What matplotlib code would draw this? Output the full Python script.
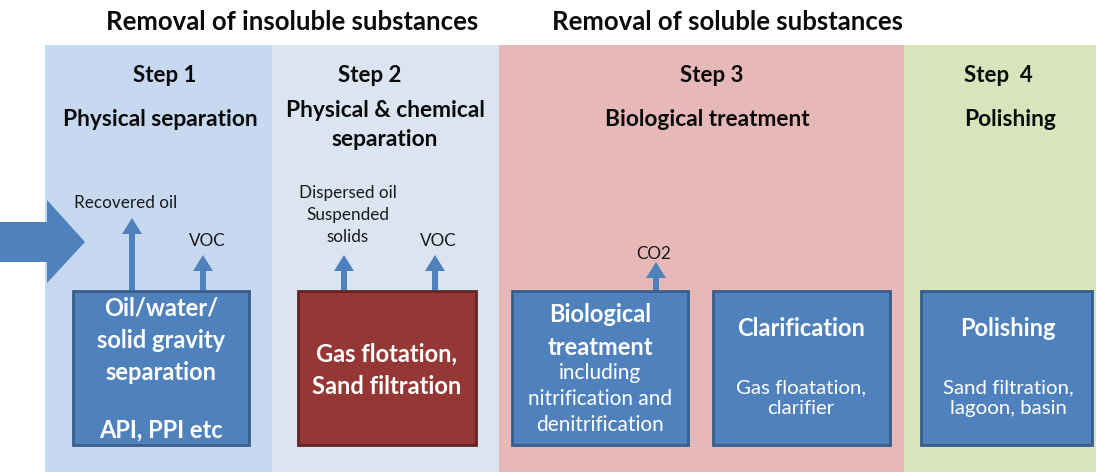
import matplotlib.pyplot as plt
from matplotlib.patches import Rectangle, FancyArrow, Polygon

plt.rcParams['font.family'] = ['Lato', 'DejaVu Sans']

# header groups
group_titles = ['Removal of insoluble substances', 'Removal of soluble substances']
group_x = [292, 728]

# step panels: left, right, colour
panel_left = [45, 272, 499, 904]
panel_right = [272, 499, 904, 1096]
panel_colors = ['#c6d9f0', '#dbe5f1', '#e6b8b7', '#d7e4bc']
step_labels = ['Step 1', 'Step 2', 'Step 3', 'Step  4']
step_x = [165, 370, 712, 998]
step_names = ['Physical separation', 'Physical & chemical\nseparation',
              'Biological treatment', 'Polishing']
step_name_x = [160, 385, 707, 1010]

# process boxes
box_left = [73, 298, 512, 713, 921]
box_right = [249, 476, 688, 890, 1092]
box_colors = ['#4f81bd', '#953735', '#4f81bd', '#4f81bd', '#4f81bd']
box_edges = ['#385d8a', '#632523', '#385d8a', '#385d8a', '#385d8a']
box_top, box_bottom = 291, 445

# outlet arrows
outlet_x = [132, 203, 344, 435, 656]
outlet_tip = [218, 255, 255, 255, 262]
outlet_labels = ['Recovered oil', 'VOC', 'Dispersed oil\nSuspended\nsolids', 'VOC', 'CO2']
outlet_label_x = [126, 207, 348, 438, 654]
outlet_label_y = [203, 241, 215, 241, 254]

fig = plt.figure(figsize=(10.96, 4.72), dpi=100)
ax = fig.add_axes([0, 0, 1, 1])
ax.set_xlim(0, 1096)
ax.set_ylim(472, 0)
ax.axis('off')

for l, r, c in zip(panel_left, panel_right, panel_colors):
    ax.add_patch(Rectangle((l, 45), r - l, 472 - 45, facecolor=c, edgecolor='none'))

for t, x in zip(group_titles, group_x):
    ax.text(x, 22, t, ha='center', va='center', fontsize=18.5, fontweight='bold', color='#0a0a0a')

for s, x in zip(step_labels, step_x):
    ax.text(x, 75, s, ha='center', va='center', fontsize=16, fontweight='bold', color='#0a0a0a')
for s, x in zip(step_names, step_name_x):
    ax.text(x, 119 if '\n' not in s else 125, s, ha='center', va='center', fontsize=16.4,
            fontweight='bold', color='#0a0a0a', linespacing=1.5)

# inflow arrow
ax.add_patch(Polygon([(0, 222), (47, 222), (47, 200), (85, 242), (47, 283), (47, 262), (0, 262)],
                     closed=True, facecolor='#4f81bd', edgecolor='none'))

for l, r, c, e in zip(box_left, box_right, box_colors, box_edges):
    ax.add_patch(Rectangle((l, box_top), r - l, box_bottom - box_top, facecolor=c,
                           edgecolor=e, linewidth=2))

for x, tip in zip(outlet_x, outlet_tip):
    ax.add_patch(FancyArrow(x, box_top - 1, 0, tip - box_top + 1, width=6, head_width=20,
                            head_length=16, length_includes_head=True,
                            facecolor='#4f81bd', edgecolor='none'))
for s, x, y in zip(outlet_labels, outlet_label_x, outlet_label_y):
    ax.text(x, y, s, ha='center', va='center', fontsize=12.3, color='#1a1a1a', linespacing=1.45)

white = dict(ha='center', va='center', color='white', fontweight='bold')
ax.text(161, 340, 'Oil/water/\nsolid gravity\nseparation', fontsize=17, linespacing=1.5, **white)
ax.text(161, 430, 'API, PPI etc', fontsize=17, **white)
ax.text(387, 370, 'Gas flotation,\nSand filtration', fontsize=17, linespacing=1.5, **white)
ax.text(600, 331, 'Biological\ntreatment', fontsize=17, linespacing=1.5, **white)
ax.text(600, 399, 'including\nnitrification and\ndenitrification', fontsize=15,
        linespacing=1.35, ha='center', va='center', color='white')
ax.text(801, 329, 'Clarification', fontsize=17, **white)
ax.text(801, 398, 'Gas floatation,\nclarifier', fontsize=14.7, linespacing=1.3,
        ha='center', va='center', color='white')
ax.text(1008, 328, 'Polishing', fontsize=17, **white)
ax.text(1008, 398, 'Sand filtration,\nlagoon, basin', fontsize=14.7, linespacing=1.3,
        ha='center', va='center', color='white')

fig.savefig('out.png', dpi=100)
